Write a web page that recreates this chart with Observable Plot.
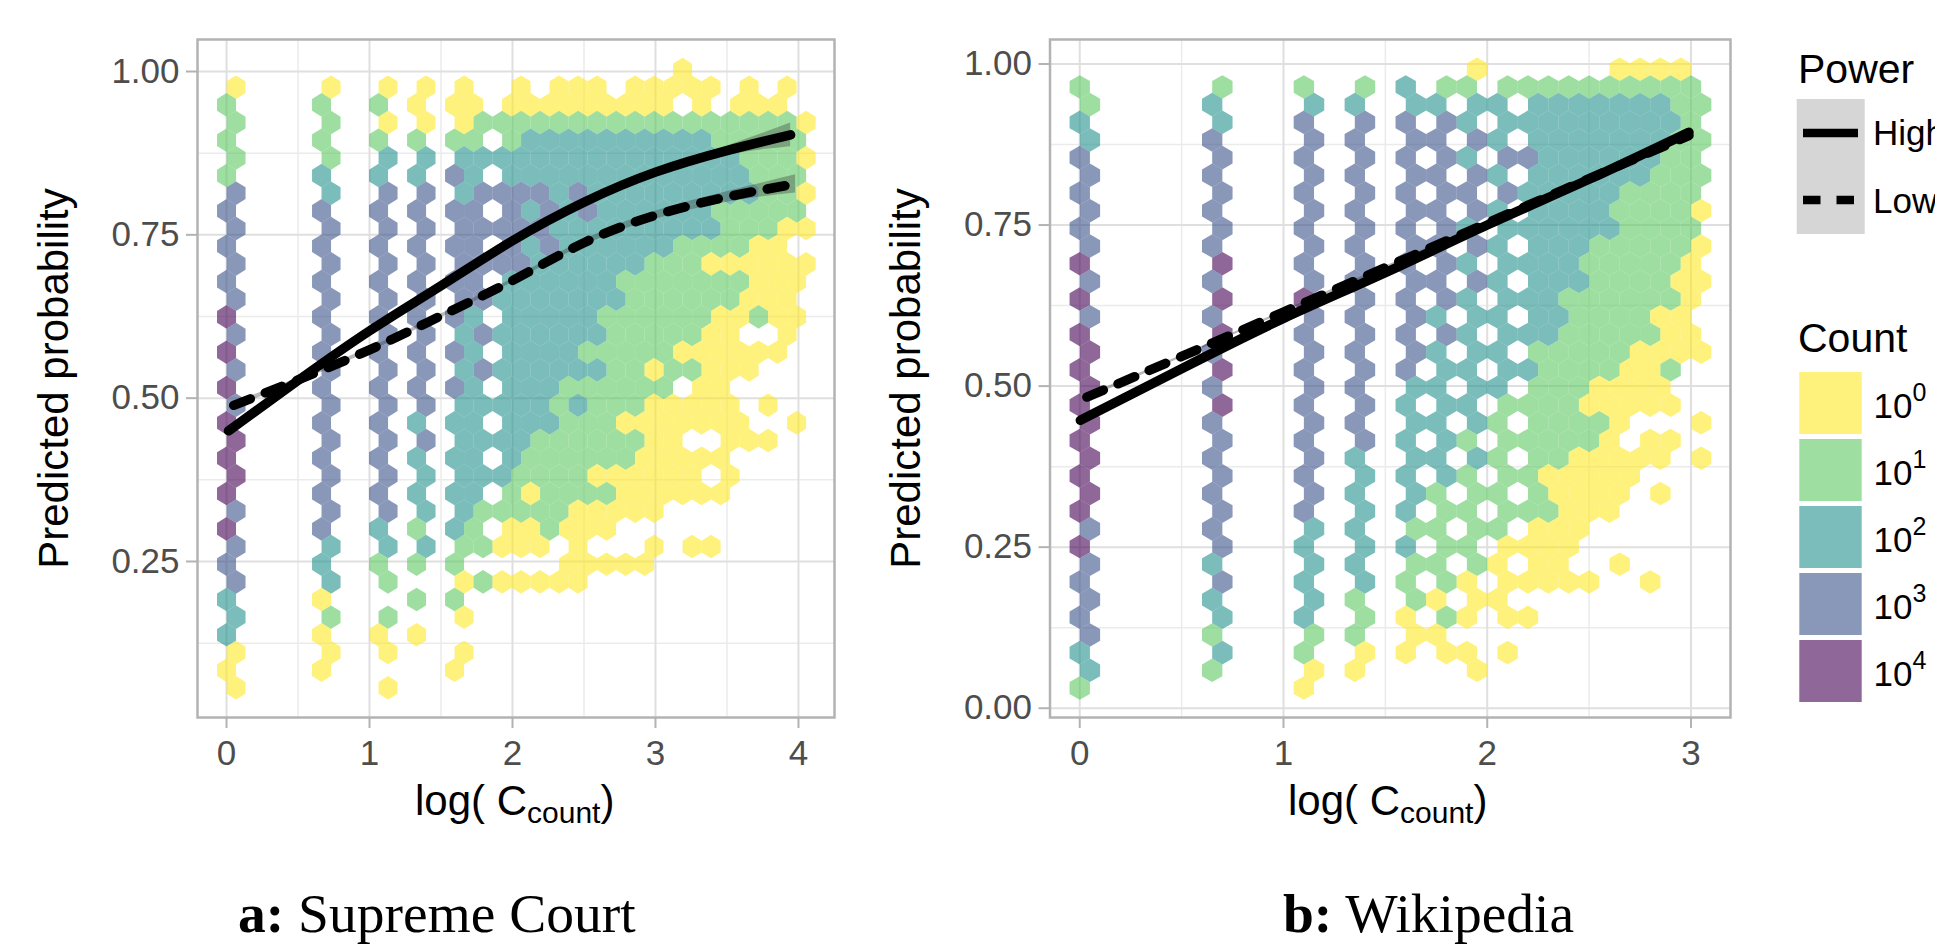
<!DOCTYPE html>
<html>
<head>
<meta charset="utf-8">
<script src="https://cdn.jsdelivr.net/npm/d3@7"></script>
<script src="https://cdn.jsdelivr.net/npm/@observablehq/plot@0.6"></script>
<style>
html,body{margin:0;padding:0;background:#fff;width:1935px;height:945px;overflow:hidden}
#stage{position:relative;width:1935px;height:945px;overflow:hidden}
#stage svg{position:absolute;top:0;font-family:"Liberation Sans",Arial,sans-serif;background:none;max-width:none}
</style>
</head>
<body>
<div id="stage"></div>
<script>
// Levels: 0=10^0 ... 4=10^4, "."=no hexagon. Each string is one row of hex bins, top to bottom.
const hexRowsA = [
"..... ..... ..... ..... ....0 ..... .",
"0.... 0..0. 0.0.. 0.000 .0000 0.0.0 .",
"1.... 1..1. 0.00. 00000 0000. 0.000 .",
"1.... 1..0. 0.011 11111 11111 11111 0",
"1.... 1..1. 1.11. 12222 22222 21111 1",
"1.... 1..2. 2.222 22222 22222 22111 0",
"1.... 2..2. 2.32. 22222 22222 22211 1",
"3.... 2..3. 3.233 33232 22222 22211 0",
"3.... 3..3. 3.33. 32323 22222 21111 1",
"3.... 3..3. 3.333 33222 22222 21110 0",
"3.... 3..3. 3.33. 32322 22221 11100 .",
"3.... 3..3. 3.333 32222 22111 00000 0",
"3.... 3..3. 3.33. 22222 21111 11100 0",
"3.... 3..3. 3.332 22222 21111 11000 .",
"4.... 3..3. 3.32. 22222 11111 10010 0",
"3.... 3..3. 3.232 22222 11111 00..0 .",
"4.... 3..3. 3.32. 22221 11110 00000 .",
"3.... 3..3. 3.232 22222 11011 000.. .",
"4.... 3..3. 3.32. 22211 1111. 00... .",
"3.... 3..3. 3.222 22121 11000 00.0. .",
"4.... 3..3. 2.22. 22211 10000 000.. 0",
"4.... 3..3. 3.222 21111 1100. .000. .",
"4.... 3..3. 2.22. 21111 11000 00... .",
"4.... 3..3. 2.222 11110 00000 .0... .",
"4.... 3..3. 2.22. 10111 10000 00... .",
"3.... 3..3. 2.211 11100 000.. ..... .",
"4.... 3..2. 1.21. 00100 0.... ..... .",
"3.... 2..2. 2.110 00.0. ..0.0 0.... .",
"3.... 2..1. 1.1.. ...00 000.. ..... .",
"3.... 2..1. ..010 0000. ..... ..... .",
"2.... 0.... 1.1.. ..... ..... ..... .",
"2.... 1..1. ..0.. ..... ..... ..... .",
"2.... 0..0. 0.... ..... ..... ..... .",
"0.... 0..0. ..0.. ..... ..... ..... .",
"0.... 0.... ..0.. ..... ..... ..... .",
"0.... ...0. ..... ..... ..... ..... ."
];
const hexRowsB = [
"..... ..... ..... ....0 ..... .0000 .",
"1.... ..1.. .1..1 .2.11 .1111 11111 1",
"1.... .2... .2.2. .22.2 2.222 22221 1",
"2.... ..2.. .3..3 .3.32 .2222 22222 1",
"2.... .3... .3.3. .33.3 2.222 22221 1",
"3.... ..3.. .3..3 .3.32 .3322 22221 1",
"3.... .3... .3.3. .33.3 2.222 22211 1",
"3.... ..3.. .3..3 .3.33 .3222 22111 1",
"3.... .3... .3.3. .33.3 2.222 21111 0",
"3.... ..3.. .3..3 .3.32 .2222 22111 1",
"3.... .3... .3.3. .33.3 2.222 11111 0",
"4.... ..4.. .3..3 .3.32 .2222 11111 0",
"3.... .3... .3.3. .33.3 2.222 11110 0",
"4.... ..4.. .4..3 .3.32 .2221 11111 0",
"3.... .3... .3.3. .32.2 2.221 11100 .",
"4.... ..4.. .3..3 .3.32 .2221 11110 0",
"4.... .3... .3.3. .32.2 2.111 11000 0",
"4.... ..4.. .3..3 .3.22 .2211 11001 .",
"4.... .3... .3.3. .22.2 2.111 0000. .",
"4.... ..4.. .3..3 .2.22 .1111 00000 .",
"4.... .3... .3.3. .22.2 1.111 10... 0",
"4.... ..3.. .3..3 .2.21 .1111 10.00 .",
"4.... .3... .3.2. .22.2 1.110 0000. 0",
"4.... ..3.. .3..2 .2.21 .1100 000.. .",
"4.... .3... .3.2. .21.1 1.100 00.0. .",
"4.... ..3.. .3..2 .2.11 .1110 00... .",
"3.... .3... .2.2. .11.1 1.000 ..... .",
"4.... ..3.. .2..2 .2.11 .0000 ..... .",
"3.... .2... .2.2. .11.1 0.00. .0... .",
"3.... ..3.. .2..2 .1.10 .0000 0..0. .",
"3.... .2... .2.1. .10.0 0.... ..... .",
"3.... ..2.. .2..1 .0.10 .00.. ..... .",
"3.... .1... .1.1. .00.. ..... ..... .",
"2.... ..2.. .1..0 .0.00 .0... ..... .",
"2.... .1... .0.0. ....0 ..... ..... .",
"1.... ..... .0... ..... ..... ..... ."
];

// Hex bin grids, in data units
const gridA = {xStep: 0.1329, yTop: 1.003,  yStep: 0.02704, evenRowsShifted: false};
const gridB = {xStep: 0.1,    yTop: 0.9918, yStep: 0.02744, evenRowsShifted: true};

// Fitted lines
const highAx = [0.014,0.5,1,1.5,2,2.5,3,3.5,3.945];
const highAy = [0.450,0.527,0.603,0.672,0.741,0.800,0.846,0.879,0.903];
const lowAx  = [0.05,0.5,1,1.5,2,2.5,3,3.5,3.98];
const lowAy  = [0.489,0.528,0.574,0.626,0.680,0.738,0.780,0.808,0.828];
const highBx = [0.003,0.5,1,1.5,2,2.5,2.99];
const highBy = [0.447,0.527,0.605,0.676,0.750,0.821,0.894];
const lowBx  = [0.035,0.5,1,1.5,2,2.5,2.99];
const lowBy  = [0.483,0.546,0.615,0.684,0.753,0.822,0.889];

// Confidence bands around the lines: half widths at the same points
const bandHighAw = [0.006,0.004,0.004,0.003,0.003,0.003,0.004,0.007,0.018];
const bandLowAw  = [0.004,0.003,0.003,0.003,0.003,0.004,0.006,0.008,0.014];
const bandHighBw = [0.003,0.002,0.002,0.002,0.002,0.003,0.005];
const bandLowBw  = [0.003,0.002,0.002,0.002,0.002,0.003,0.005];

// Axes
const xTicksA = [0,1,2,3,4], xMinorA = [0.5,1.5,2.5,3.5];
const xTicksB = [0,1,2,3],   xMinorB = [0.5,1.5,2.5];
const yTicksA = [0.25,0.5,0.75,1], yTicksB = [0,0.25,0.5,0.75,1];
const yMinor  = [0.125,0.375,0.625,0.875];
const yLabel  = "Predicted probability";

// Legends
const countLevels = [0,1,2,3,4];
const countColors = ["#fde725","#5ec962","#21918c","#3b528b","#440154"];
const hexOpacity = 0.6;

const GRID_MAJOR = "#dfdfdf", GRID_MINOR = "#ebebeb", BORDER = "#b3b3b3", TICK_TEXT = "#4d4d4d";

function cells(rows, g){
  const out = [];
  rows.forEach((row, r) => {
    const shifted = (r % 2 === 1) !== g.evenRowsShifted;
    [...row.replace(/ /g,"")].forEach((c, k) => {
      if (c === ".") return;
      out.push({x: (k + (shifted ? 0.5 : 0)) * g.xStep, y: g.yTop - r * g.yStep, level: +c});
    });
  });
  return out;
}
const hexSymbol = (rx, ry) => ({draw(ctx){
  ctx.moveTo(0,-ry); ctx.lineTo(rx,-ry/2); ctx.lineTo(rx,ry/2);
  ctx.lineTo(0,ry); ctx.lineTo(-rx,ry/2); ctx.lineTo(-rx,-ry/2); ctx.closePath();
}});
const table = (xs, ys) => xs.map((x,i)=>({x, y:ys[i]}));
const band  = (xs, ys, ws) => xs.map((x,i)=>({x, y1:ys[i]-ws[i], y2:ys[i]+ws[i]}));

function panel(o){
  const common = {stroke:"#000", strokeWidth:9.5, curve:"natural", x:"x", y:"y"};
  return Plot.plot({
    width:o.width, height:945, marginLeft:o.marginLeft, marginRight:o.marginRight,
    marginTop:39, marginBottom:228,
    x:{domain:o.xDomain}, y:{domain:o.yDomain},
    color:{type:"ordinal", domain:countLevels, range:countColors},
    style:{fontFamily:"Liberation Sans", background:"transparent", overflow:"visible"},
    marks:[
      Plot.gridX(o.xMinor,{stroke:GRID_MINOR, strokeOpacity:1, strokeWidth:1.5}),
      Plot.gridY(yMinor,{stroke:GRID_MINOR, strokeOpacity:1, strokeWidth:1.5}),
      Plot.gridX(o.xTicks,{stroke:GRID_MAJOR, strokeOpacity:1, strokeWidth:2}),
      Plot.gridY(o.yTicks,{stroke:GRID_MAJOR, strokeOpacity:1, strokeWidth:2}),
      Plot.dot(cells(o.rows,o.grid),{x:"x", y:"y", fill:"level", fillOpacity:hexOpacity,
        symbol:hexSymbol(o.rx,o.ry), stroke:"none"}),
      Plot.areaY(band(o.high[0],o.high[1],o.highW),{x:"x",y1:"y1",y2:"y2",fill:"#333",fillOpacity:0.35,curve:"natural"}),
      Plot.areaY(band(o.low[0],o.low[1],o.lowW),{x:"x",y1:"y1",y2:"y2",fill:"#333",fillOpacity:0.35,curve:"natural"}),
      Plot.line(table(o.high[0],o.high[1]),common),
      Plot.line(table(o.low[0],o.low[1]),{...common, strokeDasharray:"18,16"}),
      Plot.frame({stroke:BORDER, strokeWidth:2.5}),
      Plot.axisX({ticks:o.xTicks, tickSize:11, tickPadding:12, fontSize:35, stroke:BORDER, strokeWidth:2, fill:TICK_TEXT, label:null, tickFormat:d3.format("d")}),
      Plot.axisY({ticks:o.yTicks, tickSize:11, tickPadding:7, fontSize:35, stroke:BORDER, strokeWidth:2, fill:TICK_TEXT, label:null, tickFormat:d3.format(".2f")}),
      Plot.text([yLabel],{frameAnchor:"left", textAnchor:"middle", dx:o.labelDx, rotate:-90, fontSize:42, fill:"#000"})
    ]
  });
}

const stage = document.getElementById("stage");

const plotA = panel({
  width:900, marginLeft:197, marginRight:66,
  xDomain:[-0.203,4.252], yDomain:[0.0112,1.049],
  xTicks:xTicksA, xMinor:xMinorA, yTicks:yTicksA,
  rows:hexRowsA, grid:gridA, rx:9.5, ry:11.78,
  high:[highAx,highAy], low:[lowAx,lowAy], highW:bandHighAw, lowW:bandLowAw,
  labelDx:-143
});
plotA.style.left = "0px";
stage.appendChild(plotA);

const plotB = panel({
  width:880, marginLeft:149.5, marginRight:50,
  xDomain:[-0.146,3.194], yDomain:[-0.0144,1.038],
  xTicks:xTicksB, xMinor:xMinorB, yTicks:yTicksB,
  rows:hexRowsB, grid:gridB, rx:10.18, ry:11.78,
  high:[highBx,highBy], low:[lowBx,lowBy], highW:bandHighBw, lowW:bandLowBw,
  labelDx:-143
});
plotB.style.left = "900px";
stage.appendChild(plotB);

// Text that needs sub/superscripts, captions, and the legends
const over = d3.select(stage).append("svg").attr("width",1935).attr("height",945).style("left","0px");
function xlab(x){
  const t = over.append("text").attr("x",x).attr("y",815).attr("font-size",42).attr("fill","#000");
  t.append("tspan").text("log( C");
  t.append("tspan").attr("font-size",30).attr("dy",8).text("count");
  t.append("tspan").attr("dy",-8).text(")");
}
xlab(415); xlab(1288);
function caption(x, bold, rest){
  const t = over.append("text").attr("x",x).attr("y",932).attr("font-size",55.5)
    .attr("font-family","Liberation Serif").attr("fill","#000");
  t.append("tspan").attr("font-weight","bold").text(bold);
  t.append("tspan").text(" "+rest);
}
caption(238,"a:","Supreme Court");
caption(1283,"b:","Wikipedia");

over.append("text").attr("x",1798).attr("y",83).attr("font-size",41).text("Power");
over.append("rect").attr("x",1796.7).attr("y",99).attr("width",68).attr("height",135).attr("fill","#d6d6d6");
over.append("line").attr("x1",1803).attr("x2",1858).attr("y1",133).attr("y2",133).attr("stroke","#000").attr("stroke-width",8.5);
over.append("line").attr("x1",1803).attr("x2",1858).attr("y1",200).attr("y2",200).attr("stroke","#000").attr("stroke-width",8.5).attr("stroke-dasharray","17.5,16");
over.append("text").attr("x",1873).attr("y",145).attr("font-size",35).text("High");
over.append("text").attr("x",1873).attr("y",213).attr("font-size",35).text("Low");

over.append("text").attr("x",1798).attr("y",352).attr("font-size",41).text("Count");
countLevels.forEach((lvl,i)=>{
  const y = 372 + i*67;
  over.append("rect").attr("x",1799.3).attr("y",y).attr("width",62.4).attr("height",62).attr("fill",countColors[lvl]).attr("fill-opacity",hexOpacity);
  const t = over.append("text").attr("x",1873.5).attr("y",y+46).attr("font-size",35);
  t.append("tspan").text("10");
  t.append("tspan").attr("font-size",25).attr("dy",-17).text(lvl);
});
</script>
</body>
</html>
